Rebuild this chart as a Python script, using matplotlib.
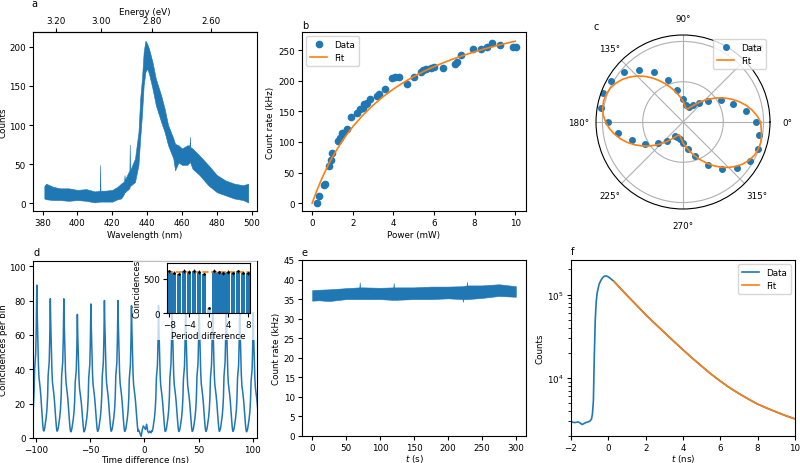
import numpy as np
import matplotlib
matplotlib.use("Agg")
import matplotlib.pyplot as plt
from matplotlib.patches import Rectangle
from matplotlib.ticker import FormatStrFormatter

# --- a: emission spectrum (noise band read as lower / upper envelope) ---
A_WL = [381, 382, 386, 390, 395, 400, 405, 410, 412.8, 413.0, 413.2, 416, 420, 423, 425,
        426.8, 427.0, 427.2, 429.8, 430.0, 430.2, 433, 435, 436, 437, 438, 439, 440, 441,
        443, 445, 448, 450, 452, 455, 456, 458, 460, 463, 464.3, 464.5, 464.7, 466, 470,
        475, 480, 485, 490, 495, 498]
A_LOW = [6, 5, 4, 4, 3, 4, 3, 1, 2, 2, 2, 2, 2, 5, 6, 12, 15, 14, 19, 22, 22, 27, 49, 83,
         113, 151, 168, 172, 166, 147, 125, 104, 91, 74, 57, 42, 52, 49, 49, 52, 55, 52,
         44, 36, 23, 14, 10, 6, 4, 1]
A_HIGH = [22, 25, 21, 19, 19, 17, 18, 15, 16, 49, 16, 16, 17, 21, 25, 28, 36, 30, 42, 75,
          42, 57, 91, 134, 159, 194, 208, 204, 198, 181, 159, 138, 121, 100, 83, 76, 74,
          70, 74, 74, 85, 72, 70, 61, 49, 36, 29, 25, 23, 25]
A_EV_TICKS = [3.20, 3.00, 2.80, 2.60]

# --- b: count rate vs power ---
B_P = [0.26, 0.35, 0.58, 0.62, 0.84, 0.92, 1.00, 1.28, 1.37, 1.45, 1.53, 1.73, 1.89, 2.19,
       2.38, 2.48, 2.55, 2.65, 2.71, 2.85, 3.17, 3.31, 3.59, 3.91, 4.08, 4.29, 4.65, 5.02,
       5.36, 5.48, 5.61, 5.86, 6.02, 6.46, 7.04, 7.12, 7.34, 7.91, 8.32, 8.60, 8.88, 9.26,
       9.87, 10.05]
B_R = [0, 11, 30, 31, 61, 70, 82, 102, 107, 114, 115, 122, 141, 148, 154, 155, 162, 162,
       163, 171, 176, 179, 186, 204, 206, 206, 195, 207, 214, 217, 220, 221, 222, 221, 228,
       231, 243, 252, 252, 255, 262, 258, 255, 255]
B_FIT_P = [0, 0.25, 0.5, 0.75, 1.0, 1.25, 1.5, 1.75, 2.0, 2.5, 3.0, 3.5, 4.0, 4.5, 5.0,
           5.5, 6.0, 6.5, 7.0, 7.5, 8.0, 8.5, 9.0, 9.5, 10.0]
B_FIT_R = [0, 22.2, 41.9, 59.5, 75.3, 89.5, 102.4, 114.2, 125.0, 144.0, 160.2, 174.3,
           186.6, 197.4, 207.0, 215.6, 223.3, 230.2, 236.5, 242.3, 247.6, 252.5, 256.9,
           261.1, 264.9]

# --- c: polarisation (normalised) ---
C_ANG = [0, 10, 20, 30, 40, 50, 60, 70, 80, 90, 100, 110, 120, 130, 140, 150, 160, 170,
         180, 190, 200, 210, 220, 230, 240, 250, 260, 270, 280, 290, 300, 310, 320, 330,
         340, 350]
C_R = [0.90, 0.79, 0.66, 0.54, 0.40, 0.31, 0.24, 0.20, 0.22, 0.29, 0.40, 0.55, 0.71, 0.85,
       0.96, 1.03, 1.06, 1.03, 0.93, 0.82, 0.67, 0.54, 0.40, 0.30, 0.20, 0.20, 0.22, 0.26,
       0.34, 0.45, 0.62, 0.76, 0.88, 0.96, 0.99, 0.96]
C_FIT_ANG = [0, 5, 10, 15, 20, 25, 30, 35, 40, 45, 50, 55, 60, 65, 70, 75, 80, 85, 90, 95,
             100, 105, 110, 115, 120, 125, 130, 135, 140, 145, 150, 155, 160, 165, 170, 175,
             180, 185, 190, 195, 200, 205, 210, 215, 220, 225, 230, 235, 240, 245, 250, 255,
             260, 265, 270, 275, 280, 285, 290, 295, 300, 305, 310, 315, 320, 325, 330, 335,
             340, 345, 350, 355, 360]
C_FIT_R = [0.963, 0.921, 0.868, 0.808, 0.740, 0.669, 0.595, 0.521, 0.450, 0.383,
           0.322, 0.269, 0.227, 0.196, 0.176, 0.170, 0.185, 0.215, 0.260, 0.300,
           0.345, 0.400, 0.460, 0.525, 0.595, 0.669, 0.740, 0.808, 0.868, 0.921,
           0.963, 0.995, 1.013, 1.020, 1.013, 0.995,
           0.960, 0.918, 0.865, 0.805, 0.738, 0.667, 0.593, 0.519, 0.448, 0.381,
           0.320, 0.267, 0.225, 0.195, 0.175, 0.170, 0.185, 0.215, 0.258, 0.298,
           0.342, 0.397, 0.456, 0.520, 0.590, 0.662, 0.732, 0.798, 0.857, 0.908,
           0.948, 0.978, 0.993, 0.998, 0.990, 0.975, 0.963]

# --- d: coincidence histogram (peak heights + one read peak profile) ---
D_PEAK_CENTERS = [-99.5, -87, -74.5, -62, -49.5, -37, -24.5, -12,
                  13, 25.5, 38, 50.5, 63, 75.5, 88, 100.5]
D_PEAK_HEIGHTS = [89, 81, 81, 72, 78, 80, 80, 77, 77, 78, 76, 79, 78, 80, 77, 73]
D_SHAPE_DT = [-6.0, -5.2, -4.5, -3.8, -3.1, -2.5, -2.0, -1.5, -1.0, -0.5, 0.0, 0.4, 1.0,
              1.5, 2.0, 2.6, 3.2, 3.8, 4.4, 5.0, 5.6, 6.1]
D_SHAPE_FRAC = [0.05, 0.07, 0.11, 0.15, 0.21, 0.30, 0.45, 0.50, 0.55, 0.72, 1.0, 0.82,
                0.62, 0.48, 0.40, 0.36, 0.32, 0.27, 0.20, 0.14, 0.08, 0.05]
D_ZERO_T = [-5.8, -4.8, -3.8, -3.0, -2.0, -1.0, 0.0, 1.0, 2.0, 3.0, 4.0, 5.0, 6.0, 6.8]
D_ZERO_Y = [5, 4, 2, 1, 5, 7, 6, 5, 8, 4, 3, 4, 3, 4]

INSET_X = [-8, -7, -6, -5, -4, -3, -2, -1, 0, 1, 2, 3, 4, 5, 6, 7, 8]
INSET_Y = [610, 590, 575, 612, 600, 612, 600, 575, 80, 620, 595, 585, 600, 580, 610, 590, 580]
INSET_ERR = [25, 24, 24, 25, 24, 25, 24, 24, 9, 25, 24, 24, 24, 24, 25, 24, 24]
INSET_MEAN = 595

# --- e: count rate over time (noise band) ---
E_T = [0, 10, 25, 50, 69.5, 70, 70.5, 75, 100, 119.5, 120, 120.5, 150, 175, 200, 221.5,
       222, 222.5, 227.5, 228, 228.5, 250, 275, 300]
E_LOW = [34.6, 34.7, 34.5, 35.0, 35.0, 35.2, 35.0, 35.0, 35.0, 34.8, 35.0, 34.8, 35.0,
         35.0, 35.2, 35.0, 34.3, 35.0, 35.0, 35.2, 35.0, 35.3, 35.8, 35.6]
E_HIGH = [37.3, 37.4, 37.5, 37.8, 38.0, 39.3, 38.0, 38.0, 37.9, 38.0, 39.1, 38.0, 38.0,
          38.2, 38.2, 38.3, 38.3, 38.3, 38.5, 39.4, 38.5, 38.5, 38.8, 38.3]

# --- f: lifetime ---
F_T = [-2.0, -1.8, -1.6, -1.4, -1.2, -1.0, -0.9, -0.85, -0.8, -0.75, -0.7, -0.65, -0.6,
       -0.5, -0.4, -0.3, -0.2, -0.1, 0.0, 0.1, 0.2, 0.3, 0.5, 1.0, 1.5, 2.0, 2.5, 3.0,
       3.5, 4.0, 4.5, 5.0, 5.5, 6.0, 6.5, 7.0, 7.5, 8.0, 8.5, 9.0, 9.5, 10.0]
F_COUNTS = [2950, 2900, 2950, 2750, 2900, 3000, 3200, 3700, 5300, 19000, 50000, 82000,
            104000, 132000, 148000, 160000, 167000, 167000, 163000, 157000, 150000, 144000,
            128800, 97700, 75000, 57400, 44700, 35100, 27500, 21700, 17200, 13800, 11100,
            9130, 7590, 6460, 5560, 4830, 4315, 3890, 3510, 3210]
F_FIT_T = [0.3, 0.5, 1.0, 1.5, 2.0, 2.5, 3.0, 3.5, 4.0, 4.5, 5.0, 5.5, 6.0, 6.5, 7.0,
           7.5, 8.0, 8.5, 9.0, 9.5, 10.0]
F_FIT = [144000, 128800, 97700, 75000, 57400, 44700, 35100, 27500, 21700, 17200, 13800,
         11100, 9130, 7590, 6460, 5560, 4830, 4315, 3890, 3510, 3210]

W, H = 800, 464
FS = 6.3
plt.rcParams["font.size"] = FS
plt.rcParams["axes.labelpad"] = 2.0
plt.rcParams["xtick.major.pad"] = 2.2
plt.rcParams["ytick.major.pad"] = 2.2
plt.rcParams["xtick.major.size"] = 3.0
plt.rcParams["ytick.major.size"] = 3.0
fig = plt.figure(figsize=(W / 100, H / 100), dpi=100)


def add_ax(left, top, right, bottom, **kw):
    return fig.add_axes([left / W, 1 - bottom / H, (right - left) / W, (bottom - top) / H], **kw)


def label(x, y, s):
    fig.text(x / W, 1 - y / H, s, fontsize=7, ha="left", va="center")


# a
ax = add_ax(33, 33, 257, 212)
ax.fill_between(A_WL, A_LOW, A_HIGH, color="C0", lw=0.4)
ax.set_xlim(374.5, 503)
ax.set_ylim(-10, 219)
ax.set_xticks(range(380, 501, 20))
ax.set_xlabel("Wavelength (nm)")
ax.set_ylabel("Counts", labelpad=1.0)


def nm_ev(x):
    x = np.asarray(x, dtype=float)
    with np.errstate(divide="ignore"):
        return 1239.84 / x


sec = ax.secondary_xaxis("top", functions=(nm_ev, nm_ev))
sec.set_xticks(A_EV_TICKS)
sec.xaxis.set_major_formatter(FormatStrFormatter("%.2f"))
sec.set_xlabel("Energy (eV)", labelpad=1)
label(31, 4, "a")

# b
ax = add_ax(302, 33, 526, 212)
ax.plot(B_P, B_R, "o", ms=4.5, color="C0", label="Data")
ax.plot(B_FIT_P, B_FIT_R, color="C1", lw=1.2, label="Fit")
ax.set_xlim(-0.5, 10.53)
ax.set_ylim(-13, 280)
ax.set_xlabel("Power (mW)")
ax.set_ylabel("Count rate (kHz)")
ax.legend(loc="upper left", fontsize=FS)
label(302, 26, "b")

# c
ax = add_ax(596, 36, 770, 210, projection="polar")
ax.plot(np.deg2rad(C_ANG), C_R, "o", ms=4, color="C0", label="Data")
ax.plot(np.deg2rad(C_FIT_ANG), C_FIT_R, color="C1", lw=1.2, label="Fit")
ax.set_rmax(1.08)
ax.set_rgrids([0.5, 1.0], labels=["", ""])
ax.set_thetagrids(range(0, 360, 45))
ax.legend(loc="upper right", fontsize=FS)
label(594, 27, "c")

# d
ax = add_ax(33, 262, 257, 439)
segs = []
for c, h in zip(D_PEAK_CENTERS, D_PEAK_HEIGHTS):
    segs += [(c + dt, h * fr) for dt, fr in zip(D_SHAPE_DT, D_SHAPE_FRAC)]
segs += list(zip(D_ZERO_T, D_ZERO_Y))
segs.sort()
ax.plot([s[0] for s in segs], [s[1] for s in segs], color="C0", lw=1.1)
ax.set_xlim(-103, 104)
ax.set_ylim(0, 103)
ax.set_xlabel("Time difference (ns)", labelpad=0.5)
ax.set_ylabel("Coincidences per bin", labelpad=1.0)
label(34, 253, "d")

fig.patches.append(Rectangle((133 / W, 1 - 341 / H), 124 / W, 79 / H, transform=fig.transFigure,
                             facecolor="white", alpha=0.75, edgecolor="none", zorder=0.5))
ins = add_ax(167, 264, 250, 314)
ins.set_zorder(1)
bar_cols = ["C0" if x != 0 else (0.12, 0.47, 0.71, 0.35) for x in INSET_X]
ins.bar(INSET_X, INSET_Y, width=0.85, color=bar_cols)
ins.errorbar(INSET_X, INSET_Y, yerr=INSET_ERR, fmt=".", color="k", ms=2, lw=0.6)
ins.axhline(INSET_MEAN, color="C1", ls="--", lw=1.2)
ins.set_xlim(-8.5, 8.4)
ins.set_ylim(0, 730)
ins.set_xticks([-8, -4, 0, 4, 8])
ins.set_yticks([0, 500])
ins.set_xlabel("Period difference", labelpad=1)
ins.set_ylabel("Coincidences", labelpad=1)

# e
ax = add_ax(302, 261, 526, 437)
ax.fill_between(E_T, E_LOW, E_HIGH, color="C0", lw=0.4)
ax.set_xlim(-15, 315)
ax.set_ylim(0, 45)
ax.set_yticks(range(0, 46, 5))
ax.set_xticks(range(0, 301, 50))
ax.set_xlabel("$t$ (s)", labelpad=0)
ax.set_ylabel("Count rate (kHz)")
label(302, 253, "e")

# f
ax = add_ax(571, 261, 795, 437)
ax.plot(F_T, F_COUNTS, color="C0", lw=1.2, label="Data")
ax.plot(F_FIT_T, F_FIT, color="C1", lw=1.2, label="Fit")
ax.set_yscale("log")
ax.set_xlim(-2, 10)
ax.set_ylim(2000, 2.6e5)
ax.set_xticks(range(-2, 11, 2))
ax.set_xlabel("$t$ (ns)", labelpad=0)
ax.set_ylabel("Counts")
ax.legend(loc="upper right", fontsize=FS)
label(571, 252, "f")

fig.savefig("out.png", dpi=100)
